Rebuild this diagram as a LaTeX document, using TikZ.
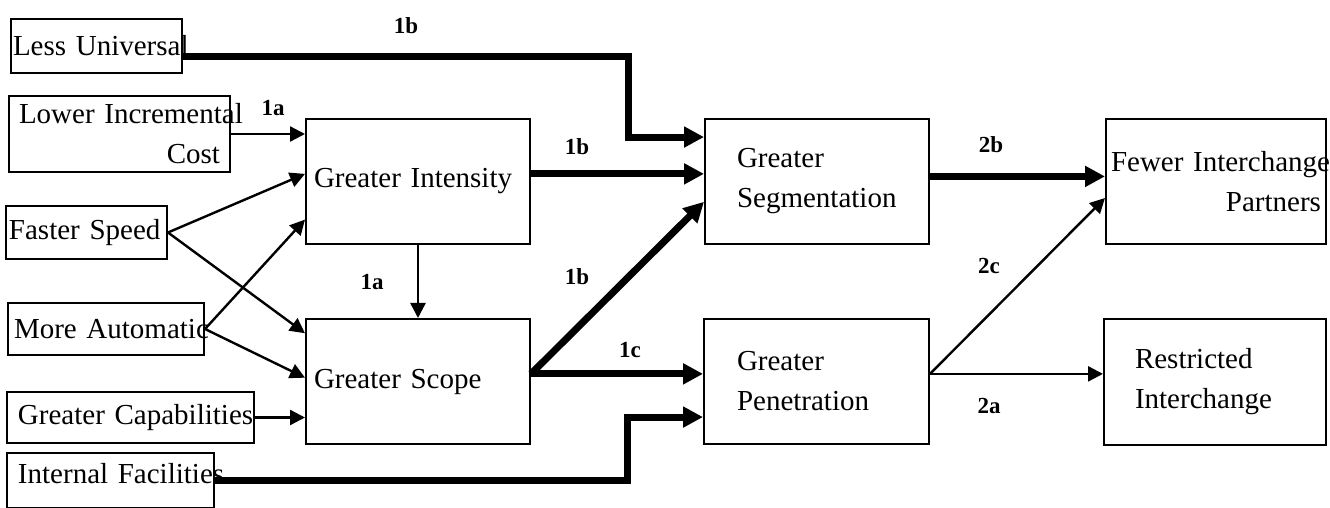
\documentclass[tikz,border=0pt]{standalone}
\usepackage{fontspec}
\setmainfont{Liberation Serif}
\usepackage{tikz}
\usetikzlibrary{arrows.meta,calc}
\usetikzlibrary{positioning}

\hyphenpenalty=10000
\exhyphenpenalty=10000

\tikzset{
	box/.style={draw, line width=1pt, anchor=north west, inner ysep=0pt, font=\fontsize{14.5}{20}\selectfont},
	thinArrow/.style={->, >={Triangle[length=7.5pt,width=7.5pt]}, line width=1.2pt},
	thickArrow/.style={->, >={Triangle[length=10pt,width=10pt]}, line width=3.5pt},
	linkLabel/.style={font=\bfseries\fontsize{11.5}{13}\selectfont}
}

\begin{document}
\begin{tikzpicture}[x=0.5pt,y=-0.5pt]
	\useasboundingbox (0,0) rectangle (1330,508);

	%Causes
	\node[box, align=left, inner xsep=1pt, text width=83.5pt, minimum height=27pt] (lessUniversal) at (10,18) {Less~Universal};
	\node[box, align=right, inner xsep=5pt, text width=100.5pt, minimum height=38pt] (lowerCost) at (8,95) {Lower~Incremental\\Cost};
	\node[box, align=left, inner xsep=1.5pt, text width=77.5pt, minimum height=26.5pt] (fasterSpeed) at (5,205) {Faster~Speed};
	\node[box, align=left, inner xsep=3pt, text width=92pt, minimum height=26pt] (moreAutomatic) at (7,302) {More~Automatic};
	\node[box, align=left, inner xsep=5.5pt, text width=112.5pt, minimum height=25.5pt] (greaterCapabilities) at (6,391) {Greater~Capabilities};
	\node[box, align=left, inner xsep=5.5pt, text width=92.5pt, text depth=7.5pt, minimum height=27.5pt] (internalFacilities) at (6,452) {Internal~Facilities};

	%Effects
	\node[box, align=left, inner xsep=4pt, text width=104pt, minimum height=62.5pt] (greaterIntensity) at (305,118) {Greater Intensity};
	\node[box, align=left, inner xsep=4pt, text width=104pt, minimum height=62.5pt] (greaterScope) at (305,318) {Greater Scope};
	\node[box, align=left, inner xsep=16pt, text width=80pt, minimum height=62.5pt] (greaterSegmentation) at (704,118) {Greater\\Segmentation};
	\node[box, align=left, inner xsep=16.5pt, text width=79.5pt, minimum height=62.5pt] (greaterPenetration) at (703,318) {Greater\\Penetration};
	\node[box, align=right, inner xsep=2.5pt, text width=105pt, minimum height=62.5pt] (fewerPartners) at (1105,118) {Fewer~Interchange\\Partners\hspace*{5pt}};
	\node[box, align=left, inner xsep=15.5pt, text width=80pt, minimum height=63pt] (restrictedInterchange) at (1103,318) {Restricted\\Interchange};

	%Ports
	\coordinate (universalOut) at ($(lessUniversal.north east)!0.68!(lessUniversal.south east)$);
	\coordinate (universalIn) at ($(greaterSegmentation.north west)!0.15!(greaterSegmentation.south west)$);
	\coordinate (intensityOut) at ($(greaterIntensity.north east)!0.44!(greaterIntensity.south east)$);
	\coordinate (scopeOut) at ($(greaterScope.north east)!0.44!(greaterScope.south east)$);
	\coordinate (facilitiesIn) at ($(greaterPenetration.north west)!0.78!(greaterPenetration.south west)$);
	\coordinate (segmentationOut) at ($(greaterSegmentation.north east)!0.46!(greaterSegmentation.south east)$);
	\coordinate (penetrationOut) at ($(greaterPenetration.north east)!0.44!(greaterPenetration.south east)$);

	%Thin links
	\draw[thinArrow] (lowerCost.east) -- (lowerCost.east -| greaterIntensity.west);
	\draw[thinArrow] (fasterSpeed.east) -- ($(greaterIntensity.north west)!0.44!(greaterIntensity.south west)$);
	\draw[thinArrow] (moreAutomatic.east) -- ($(greaterIntensity.north west)!0.8!(greaterIntensity.south west)$);
	\draw[thinArrow] (fasterSpeed.east) -- ($(greaterScope.north west)!0.12!(greaterScope.south west)$);
	\draw[thinArrow] (moreAutomatic.east) -- ($(greaterScope.north west)!0.47!(greaterScope.south west)$);
	\draw[thinArrow] (greaterCapabilities.east) -- (greaterCapabilities.east -| greaterScope.west);
	\draw[thinArrow] (greaterIntensity.south) -- (greaterScope.north);
	\draw[thinArrow] (penetrationOut) -- ($(fewerPartners.north west)!0.63!(fewerPartners.south west)$);
	\draw[thinArrow] (penetrationOut) -- (penetrationOut -| restrictedInterchange.west);

	%Thick links
	\draw[thickArrow] (universalOut) -| ([xshift=-38pt]universalIn) -- (universalIn);
	\draw[thickArrow] (intensityOut) -- (intensityOut -| greaterSegmentation.west);
	\draw[thickArrow] (scopeOut) -- ($(greaterSegmentation.north west)!0.66!(greaterSegmentation.south west)$);
	\draw[thickArrow] (scopeOut) -- (scopeOut -| greaterPenetration.west);
	\draw[thickArrow] (internalFacilities.east) -| ([xshift=-38pt]facilitiesIn) -- (facilitiesIn);
	\draw[thickArrow] (segmentationOut) -- (segmentationOut -| fewerPartners.west);

	%Labels
	\node[linkLabel] (labelUniversal) at (406,26) {1b};
	\node[linkLabel] (labelCost) at (273,108) {1a};
	\node[linkLabel] (labelIntensity) at (372,282) {1a};
	\node[linkLabel] (labelIntensitySeg) at (577,147) {1b};
	\node[linkLabel] (labelScopeSeg) at (577,277) {1b};
	\node[linkLabel] (labelScopePen) at (630,350) {1c};
	\node[linkLabel] (labelSegFewer) at (991,145) {2b};
	\node[linkLabel] (labelPenFewer) at (989,266) {2c};
	\node[linkLabel] (labelPenRestricted) at (989,406) {2a};
\end{tikzpicture}
\end{document}
